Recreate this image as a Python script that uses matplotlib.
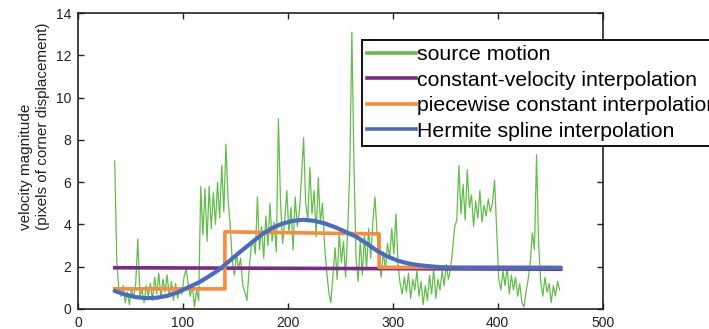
# -*- coding: utf-8 -*-
"""Velocity magnitude of source motion vs. interpolation schemes."""
import matplotlib
matplotlib.use("Agg")
import matplotlib.pyplot as plt
import numpy as np
from matplotlib.lines import Line2D

plt.rcParams["font.family"] = ["Liberation Sans", "DejaVu Sans"]

# source motion, one value every 2 frames starting at frame 35
frames = np.arange(35, 461, 2)
source_motion = [
    7.0, 2.2, 0.9, 0.6, 1.1, 0.3, 0.8, 0.2, 1.0, 0.5, 1.2, 3.3, 0.6,
    0.9, 0.3, 1.1, 0.6, 1.2, 0.4, 1.5, 0.7, 1.7, 0.5, 1.4, 0.8, 1.6, 0.6, 1.3, 0.4, 1.2, 0.5, 1.0, 0.7,
    1.5, 1.9, 1.2, 0.6, 1.1, 0.1, 0.9, 0.4,
    5.8, 3.5, 5.7, 3.2, 5.8, 3.8, 5.5, 4.0, 6.0, 4.3, 6.8, 4.6, 7.8, 5.2,
    4.0, 2.3, 1.6, 2.6, 1.9, 2.4, 1.1, 0.8, 0.4, 1.8, 2.9,
    3.3, 2.6, 5.3, 2.8, 3.9, 2.4, 4.4, 3.0, 5.0, 3.2, 4.1, 2.7,
    9.0, 5.1, 3.1, 4.2, 5.6, 3.6, 4.8, 2.8, 5.3, 3.9, 4.6, 6.2, 8.1,
    5.0, 4.2, 6.7, 4.5, 5.6, 3.4, 6.2, 4.1, 5.0, 3.0, 1.8, 0.8,
    0.3, 1.6, 2.9, 1.4, 3.6, 2.2, 3.2, 1.5, 3.7, 6.5,
    13.1, 6.8, 2.4, 1.3, 3.2, 1.6, 3.5, 1.9, 3.8, 2.4, 4.1, 5.3, 3.6, 2.1, 1.5,
    2.7, 1.9, 3.1, 2.4, 3.8, 2.6, 4.5, 2.1, 1.2, 0.7,
    1.5, 0.8, 1.7, 0.5, 1.4, 0.9, 1.8, 0.6, 1.3, 0.2, 1.1, 0.4, 1.6, 0.7, 1.9, 0.5, 1.4, 0.9, 1.8, 1.1,
    2.1, 1.4, 1.9, 2.8, 3.9,
    4.2, 6.8, 4.5, 5.9, 4.2, 6.6, 4.8, 5.4, 3.9, 5.1, 4.3, 5.6, 4.1, 4.9, 4.4, 5.2, 4.6, 5.0, 6.1, 3.8,
    1.4, 0.9, 1.8, 1.1, 2.0, 0.7, 1.6, 0.9, 1.5, 0.6, 1.2, 0.3, 0.1, 0.8, 1.4,
    2.2, 3.6, 2.8, 7.3, 3.0, 1.3, 0.6, 1.5, 0.8, 1.2, 0.3, 1.1, 0.6, 1.3, 0.9,
]

const_x = [35, 460]
const_y = [1.95, 1.88]

piece_x = [35, 140, 140, 287, 287, 460]
piece_y = [0.95, 0.95, 3.65, 3.55, 1.97, 1.97]

spline_x = [35, 45, 55, 65, 75, 85, 95, 105, 115, 125, 135, 145, 155, 165, 175,
            185, 195, 205, 215, 225, 235, 245, 255, 265, 275, 285, 295, 305,
            315, 325, 335, 345, 355, 365, 400, 460]
spline_y = [0.85, 0.68, 0.56, 0.51, 0.53, 0.62, 0.78, 1.02, 1.25, 1.55, 1.88,
            2.3, 2.72, 3.12, 3.52, 3.83, 4.04, 4.17, 4.22, 4.17, 4.05, 3.87,
            3.65, 3.42, 3.1, 2.75, 2.48, 2.28, 2.15, 2.07, 2.02, 1.98, 1.96,
            1.95, 1.95, 1.94]

labels = ["source motion", "constant-velocity interpolation",
          "piecewise constant interpolation", "Hermite spline interpolation"]
colors = ["#62bd4a", "#7a2a86", "#f98b3c", "#4a6cbf"]

fig = plt.figure(figsize=(7.09, 3.29), dpi=100)
ax = fig.add_axes([0.110, 0.061, 0.740, 0.899])

ax.plot(frames, source_motion, color=colors[0], lw=0.9)
ax.plot(const_x, const_y, color=colors[1], lw=2.6)
ax.plot(piece_x, piece_y, color=colors[2], lw=2.6)
ax.plot(spline_x, spline_y, color=colors[3], lw=3.0, solid_capstyle="round")

ax.set_xlim(0, 500)
ax.set_ylim(0, 14)
ax.set_xticks([0, 100, 200, 300, 400, 500])
ax.set_yticks([0, 2, 4, 6, 8, 10, 12, 14])
ax.tick_params(direction="in", length=4, width=1, top=True, right=True,
               labelsize=10, colors="#222222", pad=5)
for sp in ax.spines.values():
    sp.set_linewidth(1.2)
    sp.set_color("#222222")

fig.text(0.049, 0.301, "velocity magnitude\n(pixels of corner displacement)",
         rotation=90, ha="center", va="bottom", multialignment="left",
         fontsize=11, linespacing=1.3, color="#222222")

# legend runs past the right edge of the figure, as in the original
handles = [Line2D([], [], color=c, lw=2.6) for c in colors]
leg = ax.legend(handles, labels, loc="upper left", bbox_to_anchor=(0.541, 0.909),
                fontsize=15.3, handlelength=2.3, handletextpad=0.05,
                labelspacing=0.3, borderpad=0.25, borderaxespad=0,
                fancybox=False, framealpha=1, edgecolor="#111111")
leg.get_frame().set_linewidth(1.4)

fig.savefig("out.png", dpi=100)
plt.close(fig)
